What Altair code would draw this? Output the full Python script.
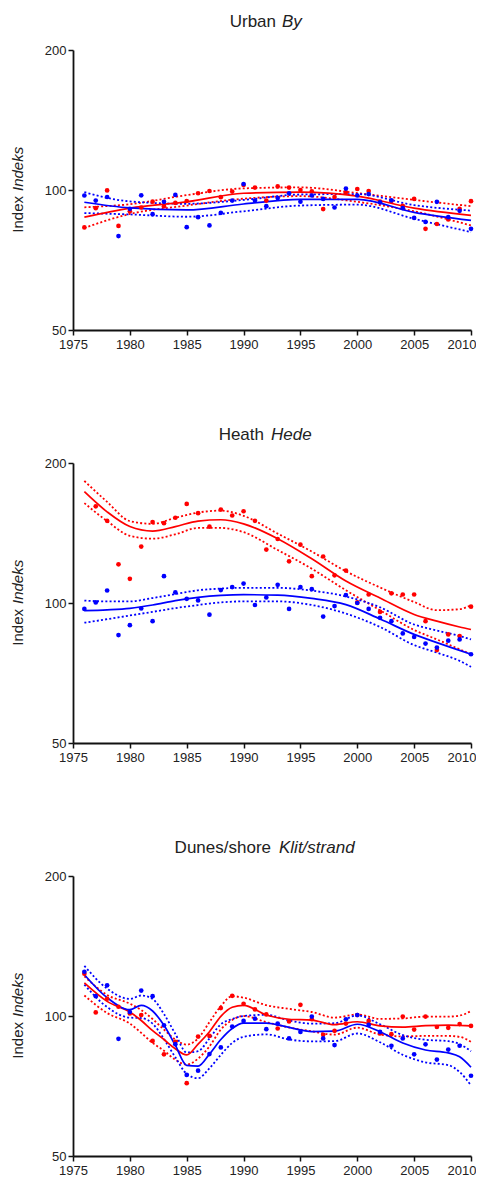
import altair as alt
import pandas as pd

RED = "#ff0000"
BLUE = "#0000ff"
TXT = "#222222"
FONT = "Liberation Sans"

YEARS = list(range(1976, 2011))
X_TICKS = list(range(1975, 2011, 5))
Y_TICKS = [50, 100, 200]

# ---------------- Urban / By ----------------
URBAN_RED = [83.1, 91.4, 99.8, 83.7, 90.0, 91.7, 94.4, 92.3, 93.8, 94.7, 98.4, 99.5, 96.5, 99.2, 102.5,
             101.2, 94.9, 101.8, 101.2, 100.0, 99.3, 91.0, 96.6, 98.9, 100.5, 99.5, 94.4, 94.7, 92.4, 95.7,
             82.5, 84.5, 86.4, 91.1, 94.6]
URBAN_BLUE = [97.3, 94.9, 96.6, 79.6, 91.1, 97.4, 88.7, 94.3, 97.6, 83.2, 87.4, 83.9, 89.3, 94.9, 103.0,
              94.9, 92.3, 96.1, 98.4, 94.4, 97.3, 95.7, 91.7, 100.7, 97.3, 98.0, 94.1, 95.0, 91.4, 87.1,
              85.4, 94.3, 87.4, 90.2, 82.5]
URBAN_KNOTS = [1976, 1980, 1985, 1990, 1995, 2000, 2005, 2010]
URBAN_RED_FIT = [87.4, 91.4, 94.3, 98.4, 99.0, 97.0, 91.4, 88.2]
URBAN_RED_HI = [91.8, 93.2, 97.5, 100.8, 101.3, 98.5, 95.2, 92.3]
URBAN_RED_LO = [82.9, 88.8, 92.6, 95.8, 97.0, 94.3, 90.0, 83.9]
URBAN_BLUE_FIT = [94.1, 91.5, 90.6, 93.3, 95.5, 95.5, 89.5, 86.0]
URBAN_BLUE_HI = [98.9, 94.5, 93.4, 95.2, 97.8, 98.0, 92.8, 90.3]
URBAN_BLUE_LO = [89.2, 88.6, 87.6, 90.0, 92.6, 93.0, 86.7, 81.2]

# ---------------- Heath / Hede ----------------
HEATH_RED = [None, 161.4, 150.2, 121.1, 112.7, 132.2, 149.3, 148.5, 152.5, 163.3, 156.0, 145.9, 158.8, 154.2,
             157.5, 150.2, 130.3, 137.3, 122.9, 133.5, 114.2, 125.9, 114.7, 117.4, 100.3, 104.3, 95.7, 104.9,
             104.3, 104.3, 91.4, 79.2, 85.6, 84.9, 98.2]
HEATH_BLUE = [97.1, 100.3, 106.4, 85.3, 89.6, 97.3, 91.4, 114.2, 105.4, 102.1, 101.3, 94.4, 106.6, 108.2,
              110.1, 99.0, 102.8, 109.4, 97.1, 108.2, 107.1, 93.5, 98.5, 104.0, 100.0, 97.1, 92.9, 91.4,
              86.0, 84.5, 81.8, 80.2, 83.0, 83.5, 77.6]
HEATH_KNOTS = [1976, 1978, 1980, 1982, 1984, 1986, 1988, 1990, 1993, 1996, 1999, 2002, 2005, 2007, 2009, 2010]
HEATH_RED_FIT = [173.5, 157, 146, 142.8, 146, 150, 151, 148, 137.5, 124.5, 111.5, 102.5, 94.5, 91.4, 88.8, 87.7]
HEATH_RED_HI = [183, 165, 150, 148, 152.5, 156.5, 158, 154, 141, 129, 117, 108, 100.5, 96.5, 97, 99]
HEATH_RED_LO = [164, 150, 139.5, 137.5, 140.5, 145, 145, 142, 130, 118.5, 106.5, 96.5, 87.5, 83.5, 79.5, 77.6]
HEATH_BLUE_FIT = [96.3, 96.7, 97.4, 99, 101.2, 102.8, 103.8, 104.2, 104, 102.3, 99.2, 92.4, 85.6, 82.2, 79.1, 77.6]
HEATH_BLUE_HI = [101.2, 100.8, 100.8, 102.5, 104.5, 106.5, 107.4, 107.8, 107.8, 106.3, 103.3, 97.9, 89.9, 87.3,
                 84.9, 83.5]
HEATH_BLUE_LO = [90.7, 92.3, 94.0, 95.7, 97.5, 99, 100.3, 100.8, 100.8, 99, 94.9, 88.8, 81.2, 78.2, 75.1, 72.9]

# ---------------- Dunes/shore / Klit/strand ----------------
DUNES_RED = [123.3, 101.8, 108.9, 104.7, 101.3, 100.5, 88.4, 82.7, 88.0, 71.7, 90.3, 90.6, 104.0, 110.5, 106.2,
             103.3, 100.8, 94.0, 97.3, 105.7, 98.4, 91.1, 92.9, 96.3, 100.5, 97.6, 91.7, 91.4, 99.7, 93.5,
             99.7, 94.7, 94.3, 96.1, 95.2]
DUNES_BLUE = [124.5, 110.3, 116.4, 89.3, 102.0, 113.4, 110.3, 95.5, 87.0, 74.7, 76.3, 82.8, 85.6, 94.9, 97.6,
              98.7, 93.7, 96.3, 89.5, 92.4, 99.7, 89.5, 86.6, 98.4, 100.5, 95.7, 92.4, 86.3, 89.5, 82.7,
              86.9, 80.6, 84.7, 86.3, 74.4]
DUNES_KNOTS = [1976, 1978, 1980, 1981, 1982, 1983, 1984, 1985, 1986, 1987, 1988, 1989, 1990, 1992, 1994, 1996,
               1998, 2000, 2002, 2004, 2006, 2008, 2009, 2010]
DUNES_RED_FIT = [117.8, 107.5, 102, 97.8, 93, 89, 85, 82.5, 87, 92.5, 99.8, 104.4, 105.4, 100.5, 98.4, 98,
                 95.8, 97.2, 95.2, 94.6, 95.3, 95.6, 95.4, 95.2]
DUNES_RED_HI = [121.7, 111, 106.3, 103, 98.5, 93.5, 89, 86.8, 89.5, 97, 105, 110.3, 109.5, 105.5, 103.6, 102,
                99.2, 100.8, 98.6, 98.8, 99.7, 99.7, 100.2, 102.5]
DUNES_RED_LO = [110.7, 101.5, 96.3, 92, 87.5, 84.2, 80.5, 78.6, 81, 86, 93.5, 98, 100, 97, 94.5, 92.7,
                91.2, 94.4, 91.2, 90.4, 90.6, 90.6, 90.2, 88.0]
DUNES_BLUE_FIT = [122.7, 109.5, 103.2, 105.4, 102.5, 95.5, 86.5, 78.3, 78.0, 82.8, 89, 94, 96.5, 96.5, 94.5, 92.6,
                  92.8, 96, 92.5, 87.5, 84.5, 83.3, 81.7, 77.6]
DUNES_BLUE_HI = [128.2, 114.5, 108.8, 110.7, 108.8, 101, 91.5, 83.5, 84, 89.5, 96, 98.5, 100, 100.6, 97.8, 96.3,
                 96.5, 100.3, 96, 91, 88.9, 88.3, 87, 84.0]
DUNES_BLUE_LO = [116.8, 104.5, 99.2, 99, 96.3, 89.2, 81.5, 75.1, 73.5, 77.2, 82.5, 87.5, 90.2, 91.3, 89, 88.2,
                 88.3, 91.7, 87.8, 82.5, 79.5, 78.4, 75.8, 70.9]

TITLES = [("Urban", "By"), ("Heath", "Hede"), ("Dunes/shore", "Klit/strand")]
TITLE_SPLITS = [(203, 209), (191, 198), (198, 206)]
AXIS_TITLE = ("Index", "Indeks")

W, H = 398, 280


def text_mark(txt, x, y, align, italic, size, angle=0):
    return alt.Chart(pd.DataFrame({"t": [txt]})).mark_text(
        align=align, baseline="alphabetic", font=FONT, fontSize=size,
        fontStyle="italic" if italic else "normal", angle=angle, color=TXT
    ).encode(x=alt.value(x), y=alt.value(y), text="t:N")


def panel(idx, red, blue, knots, rf, rh, rl, bf, bh, bl):
    pts = pd.DataFrame({
        "year": YEARS * 2,
        "value": red + blue,
        "series": ["red"] * len(YEARS) + ["blue"] * len(YEARS),
    })
    fit_rows, ci_rows = [], []
    for series, kind, vals in [("red", "hi", rh), ("red", "lo", rl), ("red", "fit", rf),
                               ("blue", "hi", bh), ("blue", "lo", bl), ("blue", "fit", bf)]:
        for yr, v in zip(knots, vals):
            row = {"year": yr, "value": v, "series": series, "curve": series + "_" + kind}
            (fit_rows if kind == "fit" else ci_rows).append(row)
    fit = pd.DataFrame(fit_rows)
    ci = pd.DataFrame(ci_rows)

    last = "datum.value === %d" % X_TICKS[-1]
    x = alt.X("year:Q", scale=alt.Scale(domain=[1975, 2010], nice=False, zero=False),
              axis=alt.Axis(values=X_TICKS, format="d", title=None, labelPadding=3, labelFlush=False,
                            labelAlign={"condition": {"test": last, "value": "right"}, "value": "center"},
                            labelOffset={"condition": {"test": last, "value": 5}, "value": 0}))
    y = alt.Y("value:Q", scale=alt.Scale(type="log", domain=[50, 200], nice=False),
              axis=alt.Axis(values=Y_TICKS, title=None, labelPadding=2, labelFlush=False))
    color = alt.Color("series:N", scale=alt.Scale(domain=["red", "blue"], range=[RED, BLUE]), legend=None)

    ci_lines = alt.Chart(ci).mark_line(interpolate="monotone", strokeWidth=1.8, strokeDash=[2, 2.2]).encode(
        x=x, y=y, color=color, detail="curve:N")
    fit_lines = alt.Chart(fit).mark_line(interpolate="monotone", strokeWidth=1.7).encode(
        x=x, y=y, color=color, detail="curve:N")
    dots = alt.Chart(pts).mark_circle(size=22, opacity=1).encode(x=x, y=y, color=color)

    reg, ital = TITLES[idx]
    sr, sl = TITLE_SPLITS[idx]
    t1 = text_mark(reg, sr, -23, "right", False, 17)
    t2 = text_mark(ital, sl, -23, "left", True, 17)
    mid = H / 2
    a1 = text_mark(AXIS_TITLE[0], -50, mid + 6, "right", False, 15, angle=270)
    a2 = text_mark(AXIS_TITLE[1], -50, mid + 1, "left", True, 15, angle=270)
    return alt.layer(ci_lines, fit_lines, dots, t1, t2, a1, a2).properties(width=W, height=H)


p1 = panel(0, URBAN_RED, URBAN_BLUE, URBAN_KNOTS, URBAN_RED_FIT, URBAN_RED_HI, URBAN_RED_LO,
           URBAN_BLUE_FIT, URBAN_BLUE_HI, URBAN_BLUE_LO)
p2 = panel(1, HEATH_RED, HEATH_BLUE, HEATH_KNOTS, HEATH_RED_FIT, HEATH_RED_HI, HEATH_RED_LO,
           HEATH_BLUE_FIT, HEATH_BLUE_HI, HEATH_BLUE_LO)
p3 = panel(2, DUNES_RED, DUNES_BLUE, DUNES_KNOTS, DUNES_RED_FIT, DUNES_RED_HI, DUNES_RED_LO,
           DUNES_BLUE_FIT, DUNES_BLUE_HI, DUNES_BLUE_LO)

chart = alt.vconcat(p1, p2, p3, spacing=75).properties(
    padding={"left": 3, "top": 5, "right": 0, "bottom": 0}
).configure_view(stroke=None).configure_axis(
    domainColor="#111111", domainWidth=1.8, tickColor="#111111", tickWidth=1.5, tickSize=5,
    labelFont=FONT, labelFontSize=13, labelColor=TXT, grid=False
)

chart.save("out.html", embed_options={"renderer": "svg", "actions": False})
